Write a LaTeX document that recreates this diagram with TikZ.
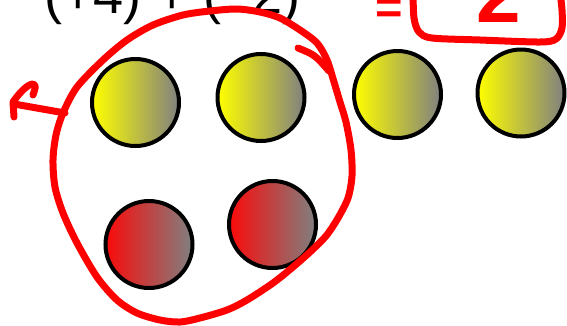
\documentclass[tikz,border=0pt]{standalone}
\usepackage{fontspec}
\setmainfont{Liberation Sans}
\begin{document}
\begin{tikzpicture}[x=1pt,y=-1pt]
\useasboundingbox (0,0) rectangle (567,325);
\definecolor{ballgray}{RGB}{128,128,128}
\definecolor{ballred}{RGB}{250,10,10}
\tikzset{
  ball/.style={circle, draw=black, line width=4pt, minimum size=87pt, inner sep=0pt},
  posball/.style={ball, left color=yellow, right color=ballgray},
  negball/.style={ball, left color=ballred, right color=ballgray},
  marker/.style={draw=red, line width=7pt, line cap=round, line join=round},
  redtext/.style={text=red, inner sep=0pt, anchor=base west}
}
% equation text
\node[anchor=base west, inner sep=0pt, font=\fontsize{54}{60}\selectfont] (expr) at (44,13) {(+4) + (−2)};
\node[redtext, font=\fontsize{47}{50}\selectfont\bfseries] (eqsign) at (375,23) {=};
\node[redtext, font=\fontsize{80}{84}\selectfont\bfseries] (result) at (476,22.5) {2};
% counters
\node[posball] (y1) at (135.5,102.5) {};
\node[posball] (y2) at (261,97.5) {};
\node[posball] (y3) at (397.5,94.5) {};
\node[posball] (y4) at (521,93) {};
\node[negball] (r1) at (149,244.5) {};
\node[negball] (r2) at (272.5,224.5) {};
% hand-drawn box round the result
\draw[marker] plot[smooth] coordinates {(413,-8) (414,18) (419,32) (432,38) (480,40) (540,42) (556,39) (562,28) (562,10) (560,-8)};
% loop round the zero pairs
\draw[marker] plot[smooth cycle] coordinates {
  (103,60) (127,40) (153,25) (183,15) (210,11) (237,9) (260,12) (280,18)
  (300,30) (317,43) (327,60) (334,82) (340,102) (346,122) (351,150)
  (352,176) (348,198) (338,218) (326,236) (310,252) (293,267) (273,283) (247,300)
  (227,310) (200,318) (180,322) (160,320) (137,313) (117,300) (97,277)
  (77,243) (63,213) (55,187) (53,160) (56,135) (63,113) (77,87)};
\coordinate (loopmark) at (329,71);
\draw[marker] (298,48) .. controls (315,55) .. (loopmark);
% arrow taking the pairs away
\coordinate (leftstart) at (65,113);
\coordinate (lefttip) at (14,104);
\draw[marker] (leftstart) -- (lefttip);
\draw[marker] (14,117) -- (13,102) .. controls (20,92) and (28,84) .. (33,84) .. controls (36,86) .. (33,95);
\end{tikzpicture}
\end{document}
